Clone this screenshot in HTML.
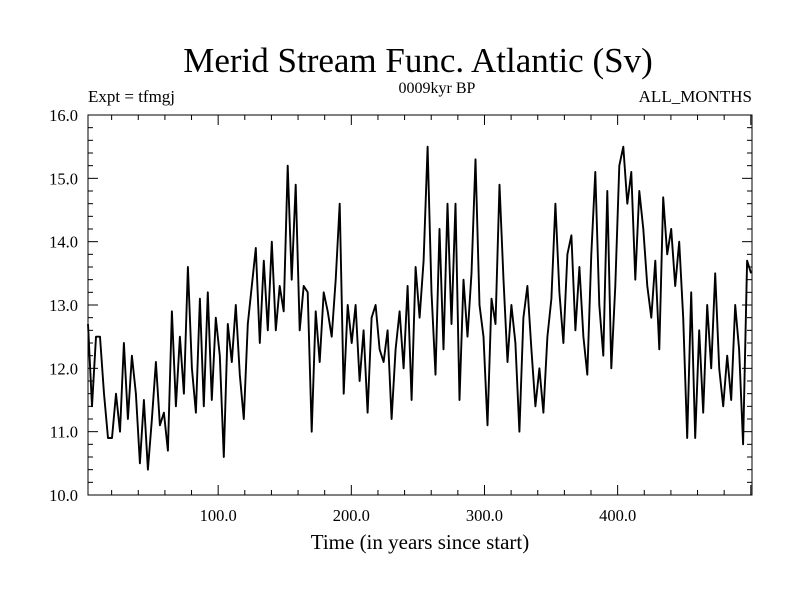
<!DOCTYPE html>
<html><head><meta charset="utf-8"><style>
body{margin:0;background:#fff}
svg text{font-family:"Liberation Serif",serif;fill:#000}
</style></head><body>
<svg id="chart" width="800" height="600" xmlns="http://www.w3.org/2000/svg">
<text x="418" y="72" font-size="35" text-anchor="middle">Merid Stream Func. Atlantic (Sv)</text>
<text x="88" y="102" font-size="17">Expt = tfmgj</text>
<text x="437" y="93" font-size="16" text-anchor="middle">0009kyr BP</text>
<text x="752" y="102" font-size="17" text-anchor="end">ALL_MONTHS</text>
<rect x="88" y="115" width="664" height="380" fill="none" stroke="#000" stroke-width="1"/>
<g id="ticks"></g>
<path id="series" fill="none" stroke="#000" stroke-width="1.9" stroke-linejoin="round"/>
<text x="420" y="549" font-size="21" text-anchor="middle">Time (in years since start)</text>
</svg>
<script>
const startYear = 2.25;
const stepYears = 3;
const values = [12.7,11.4,12.5,12.5,11.6,10.9,10.9,11.6,11.0,12.4,11.2,12.2,11.6,10.5,11.5,10.4,11.2,12.1,11.1,11.3,10.7,12.9,11.4,12.5,11.6,13.6,12.0,11.3,13.1,11.4,13.2,11.5,12.8,12.2,10.6,12.7,12.1,13.0,11.9,11.2,12.7,13.3,13.9,12.4,13.7,12.6,14.0,12.6,13.3,12.9,15.2,13.4,14.9,12.6,13.3,13.2,11.0,12.9,12.1,13.2,12.9,12.5,13.4,14.6,11.6,13.0,12.4,13.0,11.8,12.6,11.3,12.8,13.0,12.3,12.1,12.6,11.2,12.3,12.9,12.0,13.3,11.5,13.6,12.8,13.7,15.5,13.2,11.9,14.2,12.3,14.6,12.7,14.6,11.5,13.4,12.5,13.5,15.3,13.0,12.5,11.1,13.1,12.7,14.9,13.4,12.1,13.0,12.4,11.0,12.8,13.3,12.3,11.4,12.0,11.3,12.5,13.1,14.6,13.2,12.4,13.8,14.1,12.6,13.6,12.5,11.9,13.8,15.1,13.0,12.2,14.8,12.0,13.3,15.2,15.5,14.6,15.1,13.4,14.8,14.2,13.3,12.8,13.7,12.3,14.7,13.8,14.2,13.3,14.0,12.8,10.9,13.2,10.9,12.6,11.3,13.0,12.0,13.5,12.0,11.4,12.2,11.5,13.0,12.3,10.8,13.7,13.5];
const xTicks = [100,200,300,400];
const xTickLabels = ["100.0","200.0","300.0","400.0"];
const yTicks = [10,11,12,13,14,15,16];
const yTickLabels = ["10.0","11.0","12.0","13.0","14.0","15.0","16.0"];

const X0=88,X1=752,Y0=115,Y1=495;
const yMin=10,yMax=16;
function sx(v){return 85+(v)*1.3316;}
function sy(v){return Y1-(v-yMin)/(yMax-yMin)*(Y1-Y0);}

let d='';
values.forEach((v,i)=>{const yr=startYear+i*stepYears;d+=(i?'L':'M')+sx(yr).toFixed(1)+','+sy(v).toFixed(1);});
document.getElementById('series').setAttribute('d',d);

const NS='http://www.w3.org/2000/svg';
const g=document.getElementById('ticks');
function line(x1,y1,x2,y2){const l=document.createElementNS(NS,'line');l.setAttribute('x1',x1);l.setAttribute('y1',y1);l.setAttribute('x2',x2);l.setAttribute('y2',y2);l.setAttribute('stroke','#000');l.setAttribute('stroke-width','1');


g.appendChild(l);}
function text(x,y,s,anchor,name){const t=document.createElementNS(NS,'text');t.setAttribute('x',x);t.setAttribute('y',y);t.setAttribute('font-size','16.5');t.setAttribute('text-anchor',anchor);t.textContent=s;


g.appendChild(t);}
for(let v=10;v<=16.001;v+=0.2){const y=sy(v);const major=Math.abs(v-Math.round(v))<0.01;const L=major?10:5;line(X0,y,X0+L,y);line(X1,y,X1-L,y);}
yTicks.forEach((v,i)=>text(78,sy(v)+6,yTickLabels[i],'end','y-tick-label'));
for(let v=20;v<=500;v+=20){const x=sx(v);if(x<X0||x>X1)continue;const major=v%100===0;const L=major?10:5;line(x,Y1,x,Y1-L);line(x,Y0,x,Y0+L);}
xTicks.forEach((v,i)=>text(sx(v),521,xTickLabels[i],'middle','x-tick-label'));
</script>
</body></html>
